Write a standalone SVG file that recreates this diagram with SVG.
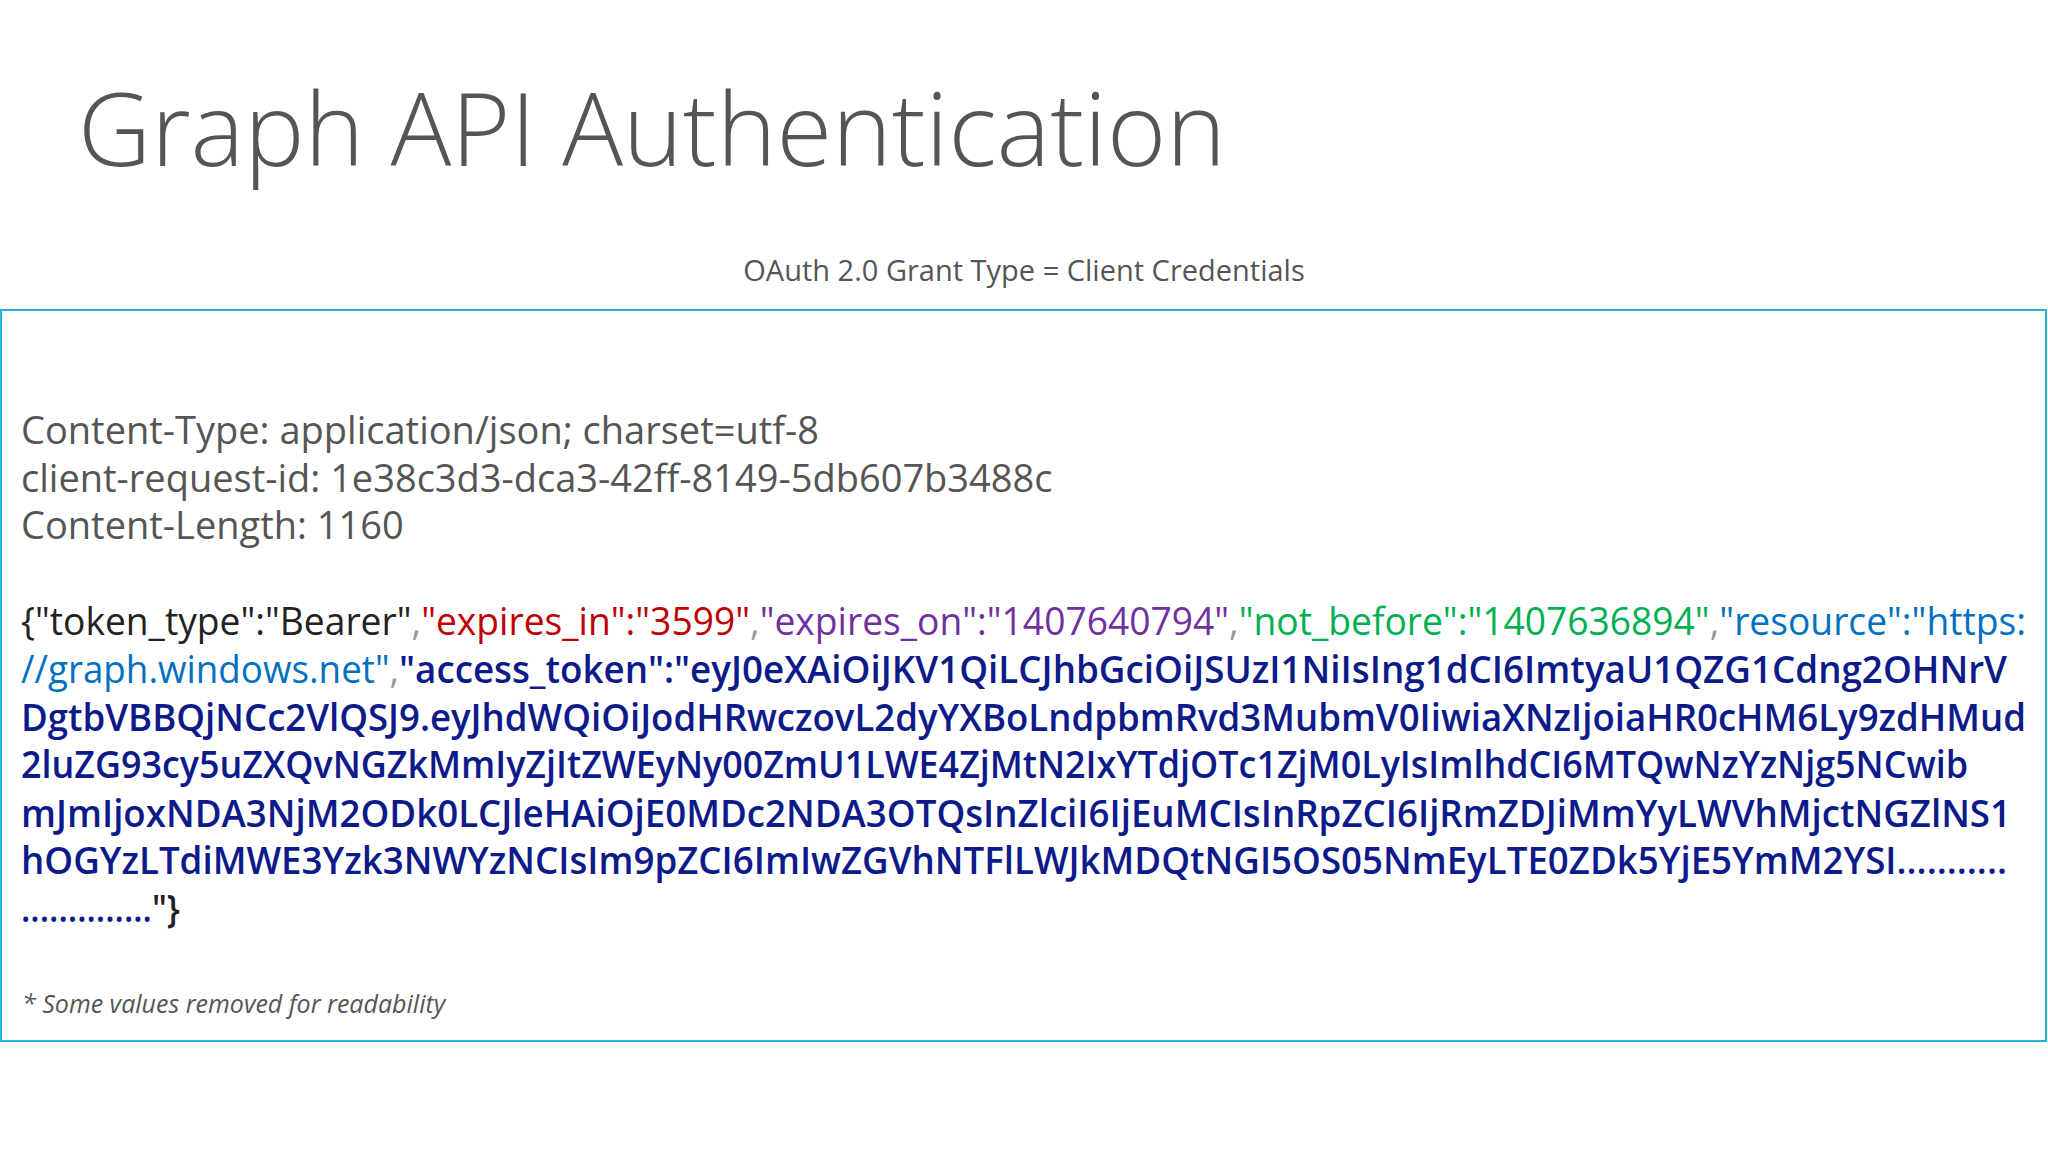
<svg xmlns="http://www.w3.org/2000/svg" width="2048" height="1152" viewBox="0 0 2048 1152">
<style>
text{font-family:"Open Sans","Noto Sans","Liberation Sans",sans-serif}
.h{font-size:38px;fill:#555}
.j{font-size:38px}
.n{fill:#0d1a8a;font-weight:600}
.k{fill:#222}
.r{fill:#c00000}.p{fill:#7030a0}.g{fill:#00b050}.b{fill:#0070c0}.c{fill:#999}
</style>
<rect width="2048" height="1152" fill="#fff"/>
<g id="title"><text x="78" y="166" font-size="102" fill="#555" font-family="Open Sans, sans-serif" font-weight="300" textLength="1148" lengthAdjust="spacingAndGlyphs">Graph API Authentication</text></g>
<g id="subtitle"><text x="1024" y="281" font-size="29" fill="#555" text-anchor="middle">OAuth 2.0 Grant Type = Client Credentials</text></g>
<g id="panel">
<rect x="1" y="310" width="2045" height="731" fill="none" stroke="#22b5d8" stroke-width="2"/>
<text class="h" x="21" y="444">Content-Type: application/json; charset=utf-8</text>
<text class="h" x="21" y="492">client-request-id: 1e38c3d3-dca3-42ff-8149-5db607b3488c</text>
<text class="h" x="21" y="539">Content-Length: 1160</text>
<text class="j" x="21" y="635" textLength="2005" lengthAdjust="spacingAndGlyphs"><tspan class="k">{"token_type":"Bearer"</tspan><tspan class="c">,</tspan><tspan class="r">"expires_in":"3599"</tspan><tspan class="c">,</tspan><tspan class="p">"expires_on":"1407640794"</tspan><tspan class="c">,</tspan><tspan class="g">"not_before":"1407636894"</tspan><tspan class="c">,</tspan><tspan class="b">"resource":"https:</tspan></text>
<text class="j" x="21" y="683" textLength="1986" lengthAdjust="spacingAndGlyphs"><tspan class="b">//graph.windows.net"</tspan><tspan class="c">,</tspan><tspan class="n">"access_token":"eyJ0eXAiOiJKV1QiLCJhbGciOiJSUzI1NiIsIng1dCI6ImtyaU1QZG1Cdng2OHNrV</tspan></text>
<text class="j n" x="21" y="731" textLength="2005" lengthAdjust="spacingAndGlyphs">DgtbVBBQjNCc2VlQSJ9.eyJhdWQiOiJodHRwczovL2dyYXBoLndpbmRvd3MubmV0IiwiaXNzIjoiaHR0cHM6Ly9zdHMud</text>
<text class="j n" x="21" y="778" textLength="1947" lengthAdjust="spacingAndGlyphs">2luZG93cy5uZXQvNGZkMmIyZjItZWEyNy00ZmU1LWE4ZjMtN2IxYTdjOTc1ZjM0LyIsImlhdCI6MTQwNzYzNjg5NCwib</text>
<text class="j n" x="21" y="827" textLength="1990" lengthAdjust="spacingAndGlyphs">mJmIjoxNDA3NjM2ODk0LCJleHAiOjE0MDc2NDA3OTQsInZlciI6IjEuMCIsInRpZCI6IjRmZDJiMmYyLWVhMjctNGZlNS1</text>
<text class="j n" x="21" y="874" textLength="1986" lengthAdjust="spacingAndGlyphs">hOGYzLTdiMWE3Yzk3NWYzNCIsIm9pZCI6ImIwZGVhNTFlLWJkMDQtNGI5OS05NmEyLTE0ZDk5YjE5YmM2YSI...........</text>
<text class="j n" x="21" y="922" textLength="159" lengthAdjust="spacingAndGlyphs">..............<tspan class="k">"}</tspan></text>
<text x="22" y="1013" font-size="25" font-style="italic" fill="#555">* Some values removed for readability</text>
</g>
</svg>
